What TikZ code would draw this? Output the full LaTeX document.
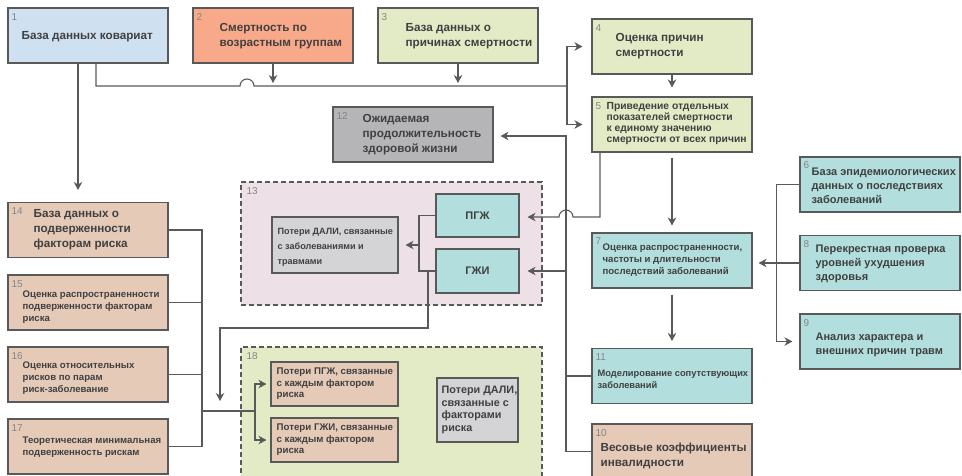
\documentclass[tikz,border=0pt]{standalone}
\usepackage{fontspec}
\setmainfont{Liberation Sans}
\usetikzlibrary{arrows.meta,positioning}

\definecolor{cblue}{HTML}{CFE0F1}
\definecolor{csalmon}{HTML}{F8A98A}
\definecolor{cgreen}{HTML}{E2EBC6}
\definecolor{cgray}{HTML}{B5B5B7}
\definecolor{cteal}{HTML}{B2DFDD}
\definecolor{ctan}{HTML}{E6CAB8}
\definecolor{cpink}{HTML}{EDE0E7}
\definecolor{clgray}{HTML}{D4D4D6}
\definecolor{cline}{HTML}{595959}
\definecolor{ctext}{HTML}{404040}
\definecolor{cnum}{HTML}{858585}

\begin{document}
\begin{tikzpicture}[%
    x=1pt, y=-1pt,              % one unit per pixel, y runs downwards
    >={Stealth[length=8pt,width=8.5pt,inset=2.5pt]},
    ]
% -------------------------------------------------
% Box and line styles
\tikzset{
  box/.style={draw=cline, line width=1.1pt, minimum width=160pt,
    minimum height=55pt, inner sep=0pt},
  grp/.style={draw=cline, line width=1.1pt, dash pattern=on 5pt off 3pt,
    inner sep=0pt},
  big/.style={font=\fontsize{11.7}{15}\selectfont\bfseries, text=ctext,
    align=left, inner sep=0pt},
  mid/.style={big, font=\fontsize{11}{14}\selectfont\bfseries},
  small/.style={big, font=\fontsize{9.6}{12}\selectfont\bfseries},
  tiny/.style={big, font=\fontsize{10.3}{11.3}\selectfont\bfseries},
  num/.style={font=\fontsize{10}{10}\selectfont, text=cnum, inner sep=0pt},
  line/.style={draw=cline, line width=1.1pt},
  arr/.style={line, ->, shorten >=7pt},
}
\useasboundingbox (0,0) rectangle (962,475);
% -------------------------------------------------
% Dashed groups first, so they stay behind
\node [grp, fill=cpink, minimum width=301pt, minimum height=123pt] (g13) at (391.5,243.5) {};
\node [num, below right=6pt and 6pt of g13.north west] (g13n) {13};
\node [grp, fill=cgreen, minimum width=301pt, minimum height=133pt] (g18) at (391.5,413.5) {};
\node [num, below right=6pt and 6pt of g18.north west] (g18n) {18};

% -------------------------------------------------
% Top row
\node [box, fill=cblue] (b1) at (88,35.5) {};
\node [num, below right=5.5pt and 4pt of b1.north west] (b1n) {1};
\node [big, right=14pt of b1.west, yshift=-1.5pt] (b1t) {База данных ковариат};

\node [box, fill=csalmon] (b2) at (273,35.5) {};
\node [num, below right=5.5pt and 4pt of b2.north west] (b2n) {2};
\node [big, right=27pt of b2.west, yshift=-1pt] (b2t) {Смертность по\\возрастным группам};

\node [box, fill=cgreen] (b3) at (458,35.5) {};
\node [num, below right=5.5pt and 4pt of b3.north west] (b3n) {3};
\node [big, right=28pt of b3.west, yshift=-1pt] (b3t) {База данных о\\причинах смертности};

\node [box, fill=cgreen] (b4) at (672,46.5) {};
\node [num, below right=5.5pt and 4pt of b4.north west] (b4n) {4};
\node [big, right=24pt of b4.west] (b4t) {Оценка причин\\смертности};

\node [box, fill=cgreen] (b5) at (672,124.5) {};
\node [num, below right=5.5pt and 4pt of b5.north west] (b5n) {5};
\node [tiny, right=15pt of b5.west, yshift=1pt] (b5t) {Приведение отдельных\\показателей смертности\\к единому значению\\смертности от всех причин};

\node [box, fill=cgray] (b12) at (413,134.5) {};
\node [num, below right=5.5pt and 4pt of b12.north west] (b12n) {12};
\node [big, right=30pt of b12.west] (b12t) {Ожидаемая\\продолжительность\\здоровой жизни};

% -------------------------------------------------
% Right column
\node [box, fill=cteal] (b6) at (880,184.5) {};
\node [num, below right=5pt and 4pt of b6.north west] (b6n) {6};
\node [mid, right=12pt of b6.west, yshift=-1.5pt] (b6t) {База эпидемиологических\\данных о последствиях\\заболеваний};

\node [box, fill=cteal] (b7) at (672,260.5) {};
\node [num, below right=5pt and 4pt of b7.north west] (b7n) {7};
\node [small, right=11pt of b7.west] (b7t) {Оценка распространенности,\\частоты и длительности\\последствий заболеваний};

\node [box, fill=cteal] (b8) at (880,263) {};
\node [num, below right=5.5pt and 4pt of b8.north west] (b8n) {8};
\node [mid, right=16pt of b8.west, yshift=-1pt] (b8t) {Перекрестная проверка\\уровней ухудшения\\здоровья};

\node [box, fill=cteal] (b9) at (880,341.5) {};
\node [num, below right=5.5pt and 4pt of b9.north west] (b9n) {9};
\node [mid, right=16pt of b9.west, yshift=-3pt] (b9t) {Анализ характера и\\внешних причин травм};

\node [box, fill=cteal] (b11) at (672,376) {};
\node [num, below right=5.5pt and 4pt of b11.north west] (b11n) {11};
\node [small, font=\fontsize{9.3}{12}\selectfont\bfseries, right=6pt of b11.west, yshift=-3pt] (b11t) {Моделирование сопутствующих\\заболеваний};

\node [box, fill=ctan] (b10) at (672,451.5) {};
\node [num, below right=5.5pt and 4pt of b10.north west] (b10n) {10};
\node [big, right=9pt of b10.west, yshift=-4pt] (b10t) {Весовые коэффициенты\\инвалидности};

% -------------------------------------------------
% Left column
\node [box, fill=ctan] (b14) at (88,230) {};
\node [num, below right=5.5pt and 4pt of b14.north west] (b14n) {14};
\node [big, right=26pt of b14.west] (b14t) {База данных о\\подверженности\\факторам риска};

\node [box, fill=ctan] (b15) at (88,302.5) {};
\node [num, below right=5.5pt and 4pt of b15.north west] (b15n) {15};
\node [small, right=15pt of b15.west, yshift=-5pt] (b15t) {Оценка распространенности\\подверженности факторам\\риска};

\node [box, fill=ctan] (b16) at (88,374.5) {};
\node [num, below right=5.5pt and 4pt of b16.north west] (b16n) {16};
\node [small, right=15pt of b16.west, yshift=-3.5pt] (b16t) {Оценка относительных\\рисков по парам\\риск-заболевание};

\node [box, fill=ctan] (b17) at (88,446.5) {};
\node [num, below right=5.5pt and 4pt of b17.north west] (b17n) {17};
\node [small, right=15pt of b17.west, yshift=-1pt] (b17t) {Теоретическая минимальная\\подверженность рискам};

% -------------------------------------------------
% Inside group 13
\node [box, fill=cteal, minimum width=83pt, minimum height=43pt] (pgz) at (477.5,215.5) {};
\node [big, font=\fontsize{11}{12}\selectfont\bfseries] (pgzt) at (pgz) {ПГЖ};
\node [box, fill=cteal, minimum width=83pt, minimum height=44pt] (gzi) at (477.5,271) {};
\node [big, font=\fontsize{11}{12}\selectfont\bfseries] (gzit) at (gzi) {ГЖИ};
\node [box, fill=clgray, minimum width=126pt, minimum height=56pt] (dal1) at (335,245) {};
\node [big, font=\fontsize{9.1}{15}\selectfont\bfseries, right=6pt of dal1.west, yshift=-2pt] (dal1t) {Потери ДАЛИ, связанные\\с заболеваниями и\\травмами};

% Inside group 18
\node [box, fill=ctan, minimum width=127pt, minimum height=44pt] (lpgz) at (334.5,384) {};
\node [small, font=\fontsize{9.7}{11.5}\selectfont\bfseries, right=6pt of lpgz.west] (lpgzt) {Потери ПГЖ, связанные\\с каждым фактором\\риска};
\node [box, fill=ctan, minimum width=127pt, minimum height=44pt] (lgzi) at (334.5,440) {};
\node [small, font=\fontsize{9.7}{11.5}\selectfont\bfseries, right=6pt of lgzi.west] (lgzit) {Потери ГЖИ, связанные\\с каждым фактором\\риска};
\node [box, fill=clgray, minimum width=81pt, minimum height=64pt] (dal2) at (477.5,410) {};
\node [big, font=\fontsize{10.8}{12.7}\selectfont\bfseries, right=5pt of dal2.west] (dal2t) {Потери ДАЛИ,\\связанные с\\факторами\\риска};

% -------------------------------------------------
% Junction points
\coordinate (hop1) at (240,86);
\coordinate (j1) at (567,86);
\coordinate (hop2) at (573,217);
\coordinate (v2) at (566,136);
\coordinate (brk) at (419,245);
\coordinate (c1) at (220,328);
\coordinate (j4) at (202,411);
\coordinate (j5) at (255,411);

% Mortality part
\draw [line] ([xshift=8pt]b1.south) |- (hop1) arc[start angle=180, end angle=0, radius=7pt] -- (j1);
\draw [arr, shorten >=3pt] (b2.south) -- (b2.south |- j1);
\draw [arr, shorten >=3pt] (b3.south) -- (b3.south |- j1);
\draw [arr, shorten >=9pt] (j1) |- (b4.west);
\draw [arr, shorten >=9pt] (j1) |- (b5.west);
\draw [arr, shorten >=9pt] (b4) -- (b5);
\draw [arr, shorten <=5pt] (b5) -- (b7);
\draw [arr, shorten >=8pt] ([xshift=-72pt]b5.south) |- (hop2)
  arc[start angle=0, end angle=180, radius=7pt] -- (pgz.east |- hop2);

% Disability part
\draw [arr] (b6.west) -- ++(-23,0) |- (b9.west);
\draw [arr, shorten >=6pt] (b8.west) -- (b8.west -| b7.east);
\draw [arr, shorten <=6pt] (b7) -- (b11);
\draw [arr] (b10.west) -| (v2) -- (b12.east |- v2);
\draw [line] (b11.west) -- (b11.west -| v2);
\draw [arr, shorten >=8pt] (gzi.east -| v2) -- (gzi.east);

% DALY and risk part
\draw [line] (pgz.west) -| (brk) |- (gzi.west);
\draw [arr] (brk) -- (dal1.east |- brk);
\draw [arr, shorten >=10pt] ([xshift=9pt]brk |- gzi.west) |- (c1) -- (c1 |- j4);
\draw [arr, shorten >=12pt] ([xshift=-10pt]b1.south) -- ([xshift=-10pt]b14.north);
\draw [line] (b14.east) -| (j4);
\draw [line] (b17.east) -| (j4);
\draw [line] (b15.east) -- (b15.east -| j4);
\draw [line] (b16.east) -- (b16.east -| j4);
\draw [line] (j4) -- (j5);
\draw [arr, shorten >=4pt] (j5) |- (lpgz.west);
\draw [arr, shorten >=4pt] (j5) |- (lgzi.west);
% -------------------------------------------------
\end{tikzpicture}
\end{document}
